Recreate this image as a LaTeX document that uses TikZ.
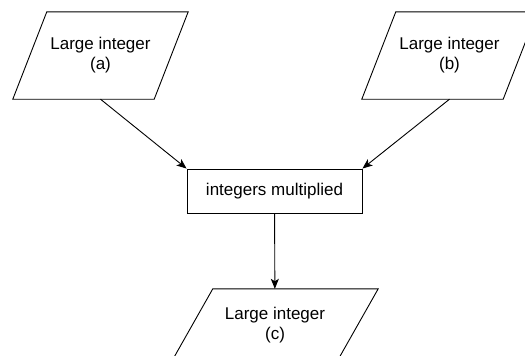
\documentclass[tikz,border=0pt]{standalone}
\usepackage{fontspec}
\setmainfont{Liberation Sans}
\usetikzlibrary{arrows.meta,positioning}

\begin{document}
\begin{tikzpicture}[x=1pt,y=-1pt,
    every node/.append style={font=\fontsize{17}{20}\selectfont},
    line/.style={draw,line width=0.9pt},
    data/.style={minimum width=175pt,minimum height=87pt,inner sep=0pt,align=center},
    proc/.style={line,rectangle,minimum width=175pt,minimum height=44pt,inner sep=0pt},
    arr/.style={line,-{Stealth[length=10pt,width=8pt,inset=2.5pt]}}]
        \useasboundingbox (0,0) rectangle (525,356);
        \clip (0,0) rectangle (525,356);

        \node[data] (a) at (100.5,55.5) {Large integer\\(a)};
        \node[data] (b) at (449.5,55.5) {Large integer\\(b)};
        \node[proc] (mult) at (274.5,191) {integers multiplied};
        \node[data,minimum width=206pt,minimum height=72pt] (c) at (275,325) {Large integer\\(c)};

        % parallelograms round the data nodes
        \draw[line] ([xshift=34pt]a.north west) -- (a.north east) -- ([xshift=-34pt]a.south east) -- (a.south west) -- cycle;
        \draw[line] ([xshift=34pt]b.north west) -- (b.north east) -- ([xshift=-34pt]b.south east) -- (b.south west) -- cycle;
        \draw[line] ([xshift=41pt]c.north west) -- (c.north east) -- ([xshift=-41pt]c.south east) -- (c.south west) -- cycle;

        \draw[arr] (a.south) -- (mult.north west);
        \draw[arr] (b.south) -- (mult.north east);
        \draw[arr] (mult) -- (c);
      \end{tikzpicture}
\end{document}
